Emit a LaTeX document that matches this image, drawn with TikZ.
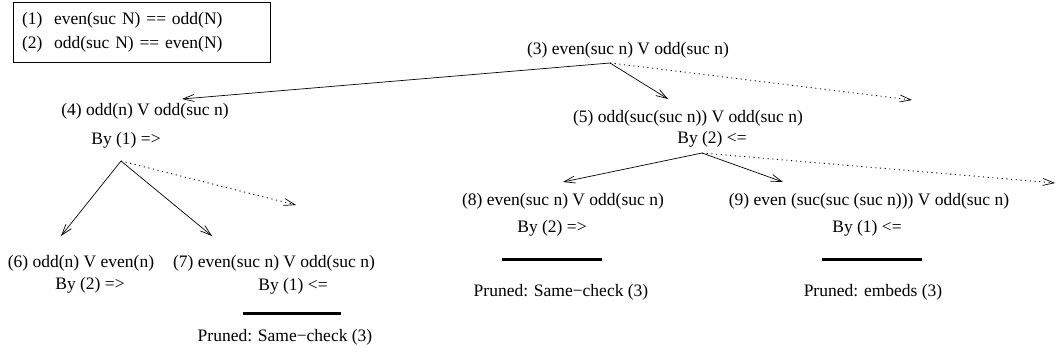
\documentclass[tikz,border=0pt]{standalone}
\usepackage{fontspec}
\setmainfont{Liberation Serif}
\usetikzlibrary{arrows.meta}
\begin{document}
\begin{tikzpicture}[x=1pt,y=-1pt,
  lbl/.style={inner sep=0pt,anchor=center,font=\fontsize{17.5}{24}\selectfont},
  edge/.style={draw,line width=0.7pt,-{Straight Barb[length=11pt,width=7pt,line width=0.7pt]}},
  dotedge/.style={edge,line width=0.9pt,dash pattern=on 1.1pt off 3.6pt},
  prune/.style={line width=3pt}]
\useasboundingbox (0,0) rectangle (1058,354);
% axiom box
\node[draw,line width=0.8pt,minimum width=257pt,minimum height=60pt,inner xsep=9pt,
  text width=239pt,align=left,font=\fontsize{17.5}{24}\selectfont] (ax) at (141.5,32)
  {(1)\ \ even(suc N) == odd(N)\\(2)\ \ odd(suc N) == even(N)};
% node 3
\node[lbl] (n3) at (628,50) {(3) even(suc n) V odd(suc n)};
\coordinate (a3) at (610,63);
% node 4
\node[lbl] (n4) at (145,111) {(4) odd(n) V odd(suc n)};
\node[lbl] (b4) at (126,140) {By (1) =>};
\coordinate (a4) at (121,161);
\coordinate (t4) at (182,99);
% node 5
\node[lbl] (n5) at (688,118) {(5) odd(suc(suc n)) V odd(suc n)};
\node[lbl] (b5) at (712,139) {By (2) <=};
\coordinate (a5) at (702,153);
\coordinate (t5) at (668,99);
\coordinate (d3) at (912,100);
% node 6
\node[lbl] (n6) at (81,263) {(6) odd(n) V even(n)};
\node[lbl] (b6) at (90,285) {By (2) =>};
\coordinate (t6) at (61,236);
% node 7
\node[lbl] (n7) at (274,263) {(7) even(suc n) V odd(suc n)};
\node[lbl] (b7) at (293,286) {By (1) <=};
\coordinate (l7a) at (243,313); \coordinate (l7b) at (341,313);
\node[lbl] (p7) at (285,337) {Pruned: Same−check (3)};
\coordinate (t7) at (212,236);
\coordinate (d4) at (296,205);
% node 8
\node[lbl] (n8) at (563,201) {(8) even(suc n) V odd(suc n)};
\node[lbl] (b8) at (552,228) {By (2) =>};
\coordinate (l8a) at (502,259); \coordinate (l8b) at (602,259);
\node[lbl] (p8) at (561,292) {Pruned: Same−check (3)};
\coordinate (t8) at (563,182);
% node 9
\node[lbl] (n9) at (869,201) {(9) even (suc(suc (suc n))) V odd(suc n)};
\node[lbl] (b9) at (867,228) {By (1) <=};
\coordinate (l9a) at (822,259); \coordinate (l9b) at (922,259);
\node[lbl] (p9) at (873,292) {Pruned: embeds (3)};
\coordinate (t9) at (783,182);
\coordinate (d5) at (1055,183);
% edges
\draw[edge] (a3) -- (t4);
\draw[edge] (a3) -- (t5);
\draw[dotedge] (a3) -- (d3);
\draw[edge] (a4) -- (t6);
\draw[edge] (a4) -- (t7);
\draw[dotedge] (a4) -- (d4);
\draw[edge] (a5) -- (t8);
\draw[edge] (a5) -- (t9);
\draw[dotedge] (a5) -- (d5);
% prune bars
\draw[prune] (l7a) -- (l7b);
\draw[prune] (l8a) -- (l8b);
\draw[prune] (l9a) -- (l9b);
\end{tikzpicture}
\end{document}
